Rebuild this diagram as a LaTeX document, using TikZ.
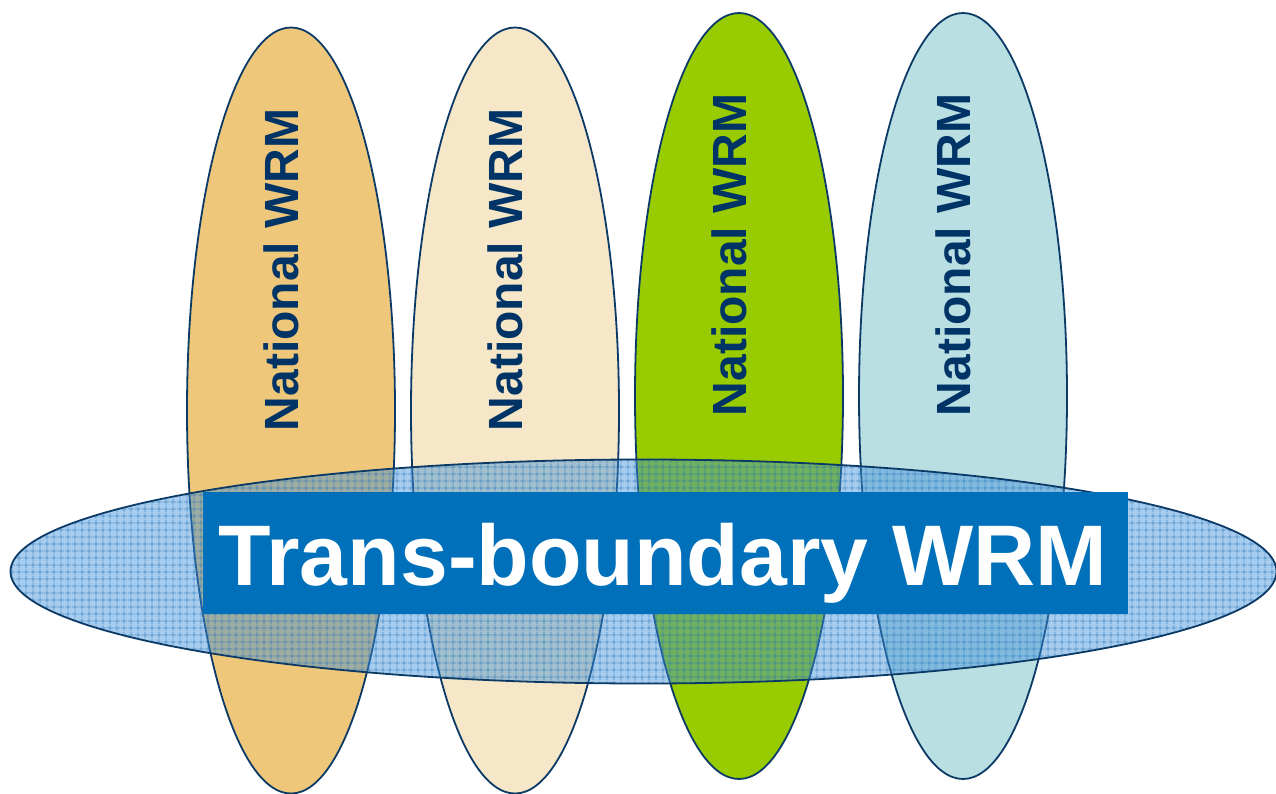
\documentclass[tikz,border=0pt]{standalone}
\usepackage{fontspec}
\setmainfont{Liberation Sans}
\usetikzlibrary{shapes.geometric,patterns.meta}
\definecolor{navy}{HTML}{0B3A66}
\definecolor{txtnavy}{HTML}{003366}
\definecolor{eA}{HTML}{EEC77A}
\definecolor{eB}{HTML}{F5E7C8}
\definecolor{eC}{HTML}{99CC00}
\definecolor{eD}{HTML}{B9DFE3}
\definecolor{hblue}{HTML}{3D8FD8}
\definecolor{hline}{HTML}{1F6FB8}
\definecolor{boxblue}{HTML}{0070BA}
\tikzset{
  vell/.style={ellipse, draw=navy, line width=1.8pt, minimum width=208pt, minimum height=766pt, inner sep=0pt},
  vlabel/.style={rotate=90, anchor=base, text=txtnavy, font=\fontsize{48}{48}\selectfont\bfseries, inner sep=0pt},
  hell/.style={ellipse, inner sep=0pt, minimum width=1266pt, minimum height=224pt},
}
\begin{document}
\begin{tikzpicture}[x=1pt,y=-1pt]
\useasboundingbox (0,0) rectangle (1276,794);
% national ellipses
\node[vell, fill=eA] (n1) at (291,410.5) {};
\node[vell, fill=eB] (n2) at (515,410.5) {};
\node[vell, fill=eC] (n3) at (739,396) {};
\node[vell, fill=eD] (n4) at (963,396) {};
\node[vlabel] (t1) at (298,270) {National WRM};
\node[vlabel] (t2) at (522,270) {National WRM};
\node[vlabel] (t3) at (746,255) {National WRM};
\node[vlabel] (t4) at (970,255) {National WRM};
% trans-boundary ellipse
\node[hell, fill=hblue, fill opacity=0.45] (tb) at (643.5,571.5) {};
\node[hell, pattern={Hatch[angle=0, distance=6.5pt, line width=0.7pt]}, pattern color=hline, fill opacity=0.65] (tbp) at (643.5,571.5) {};
\node[hell, draw=navy, line width=1.8pt] (tbo) at (643.5,571.5) {};
% box
\fill[boxblue] (203,492) rectangle (1128,614);
\node[anchor=base, text=white, font=\fontsize{86}{86}\selectfont\bfseries, inner sep=0pt] (tbl) at (663,585) {Trans-boundary WRM};
\end{tikzpicture}
\end{document}
